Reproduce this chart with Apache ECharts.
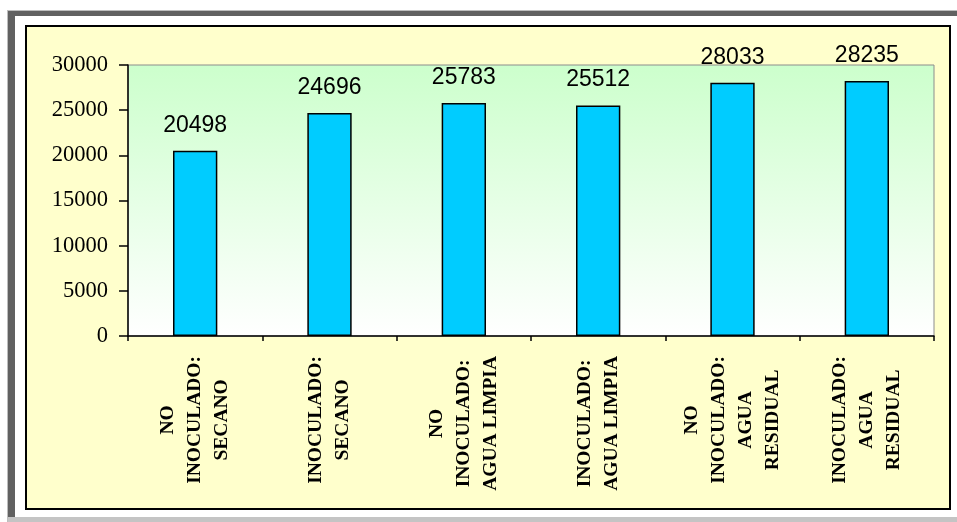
<!DOCTYPE html>
<html>
<head>
<meta charset="utf-8">
<style>
  html, body { margin: 0; padding: 0; background: #ffffff; }
  #chart { width: 957px; height: 522px; }
</style>
<script src="https://cdn.jsdelivr.net/npm/echarts@6/dist/echarts.min.js"></script>
</head>
<body>
<div id="chart"></div>
<script>
// Treatment categories (x axis)
const categories = [
  'NO\nINOCULADO:\nSECANO',
  'INOCULADO:\nSECANO',
  'NO\nINOCULADO:\nAGUA LIMPIA',
  'INOCULADO:\nAGUA LIMPIA',
  'NO\nINOCULADO:\nAGUA\nRESIDUAL',
  'INOCULADO:\nAGUA\nRESIDUAL'
];
// Values per treatment
const values = [20498, 24696, 25783, 25512, 28033, 28235];
// Value axis range
const yMin = 0;
const yMax = 30000;
const yStep = 5000;

const chart = echarts.init(document.getElementById('chart'), null, { renderer: 'canvas' });

const option = {
  backgroundColor: '#ffffff',
  animation: false,
  graphic: [
    // outer frame: light edge, dark band on top and left
    { type: 'rect', z: -20, shape: { x: 7, y: 10, width: 960, height: 1 }, style: { fill: '#bdbdbd' } },
    { type: 'rect', z: -20, shape: { x: 7, y: 10, width: 1, height: 520 }, style: { fill: '#bdbdbd' } },
    { type: 'rect', z: -19, shape: { x: 8, y: 11, width: 960, height: 5 }, style: { fill: '#616161' } },
    { type: 'rect', z: -19, shape: { x: 8, y: 11, width: 7, height: 520 }, style: { fill: '#616161' } },
    { type: 'rect', z: -19, shape: { x: 8, y: 517, width: 960, height: 6 }, style: { fill: '#c4c4c4' } },
    // chart area with black border
    { type: 'rect', z: -18, shape: { x: 26, y: 26, width: 924, height: 483 },
      style: { fill: '#ffffcc', stroke: '#000000', lineWidth: 2 } }
  ],
  grid: {
    left: 128, top: 65, right: 23, bottom: 186,
    show: true,
    borderColor: '#8c8c8c',
    borderWidth: 1,
    backgroundColor: {
      type: 'linear', x: 0, y: 0, x2: 0, y2: 1,
      colorStops: [
        { offset: 0, color: '#ccffcc' },
        { offset: 1, color: '#ffffff' }
      ]
    }
  },
  xAxis: {
    type: 'category',
    data: categories,
    axisLine: { show: true, lineStyle: { color: '#000000', width: 1.5 } },
    axisTick: { show: true, length: 5, lineStyle: { color: '#000000', width: 1.5 } },
    axisLabel: {
      interval: 0,
      rotate: 90,
      margin: 20,
      formatter: function (v) {
        return v.split('\n').map(function (s) { return '{c|' + s + '}'; }).join('\n');
      },
      rich: {
        c: {
          align: 'center',
          fontFamily: '"Liberation Serif", "Times New Roman", serif',
          fontWeight: 'bold',
          fontSize: 19.5,
          lineHeight: 27,
          color: '#000000'
        }
      }
    }
  },
  yAxis: {
    type: 'value',
    min: yMin,
    max: yMax,
    interval: yStep,
    splitLine: { show: false },
    axisLine: { show: true, lineStyle: { color: '#000000', width: 1.5 } },
    axisTick: { show: true, inside: false, length: 9, lineStyle: { color: '#000000', width: 1.5 } },
    axisLabel: {
      margin: 20,
      formatter: function (v) { return String(v); },
      fontFamily: '"Liberation Serif", "Times New Roman", serif',
      fontSize: 22.5,
      color: '#000000'
    }
  },
  series: [{
    type: 'bar',
    data: values,
    barWidth: '33%',
    itemStyle: { color: '#00ccff', borderColor: '#000000', borderWidth: 1.5 },
    label: {
      show: true,
      position: 'top',
      distance: 14,
      fontFamily: '"Liberation Sans", Arial, sans-serif',
      fontSize: 23,
      color: '#000000'
    }
  }]
};

chart.setOption(option);
</script>
</body>
</html>
